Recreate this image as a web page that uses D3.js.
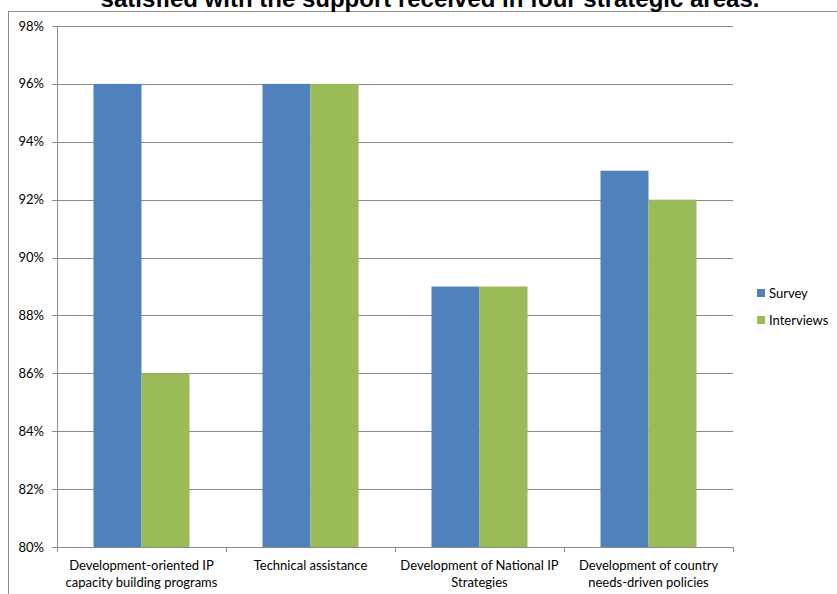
<!DOCTYPE html>
<html><head><meta charset="utf-8">
<script src="https://cdn.jsdelivr.net/npm/d3@7"></script>
<style>body{margin:0;background:#fff}svg{display:block}</style>
</head><body>
<svg id="c" width="837" height="594"></svg>
<script>
const categories = [["Development-oriented IP","capacity building programs"],["Technical assistance"],["Development of National IP","Strategies"],["Development of country","needs-driven policies"]];
const seriesNames = ["Survey","Interviews"];
const survey = [96,96,89,93];
const interviews = [86,96,89,92];
const yTicks = [80,82,84,86,88,90,92,94,96,98];
const colors = ["#4F81BD","#9BBB59"];
const title = "satisfied with the support received in four strategic areas.";

const svg = d3.select("#c");
const m = {l:57,r:733,t:26,b:547};
const font = "Lato, 'Open Sans', sans-serif";

svg.append("rect").attr("x",8.5).attr("y",11.5).attr("width",840).attr("height",600)
  .attr("fill","none").attr("stroke","#8c8c8c").attr("stroke-width",1);

svg.append("text").attr("x",430).attr("y",7).attr("text-anchor","middle")
  .attr("font-family","'Liberation Sans', Arial, sans-serif").attr("font-weight","bold")
  .attr("font-size",24).attr("fill","#000").text(title);

const x0 = d3.scaleBand().domain(d3.range(categories.length)).range([m.l,m.r]).paddingInner(0).paddingOuter(0);
const x1 = d3.scaleBand().domain(seriesNames).range([0,x0.bandwidth()]).paddingInner(0).paddingOuter(0.76);
const y = d3.scaleLinear().domain([80,98]).range([m.b,m.t]);

const g = svg.append("g");
yTicks.forEach(t=>{
  g.append("line").attr("x1",m.l-5).attr("x2",m.r).attr("y1",Math.round(y(t))+0.5).attr("y2",Math.round(y(t))+0.5)
   .attr("stroke", "#8a8a8a").attr("stroke-width",1);
  g.append("text").attr("x",44).attr("y",y(t)+4.5).attr("text-anchor","end")
   .attr("font-family",font).attr("font-size",13).attr("fill","#000").text(t+"%");
});
g.append("line").attr("x1",m.l+0.5).attr("x2",m.l+0.5).attr("y1",m.t).attr("y2",m.b).attr("stroke","#8a8a8a");

const data = [survey, interviews];
categories.forEach((c,i)=>{
  seriesNames.forEach((s,j)=>{
    const v = data[j][i];
    g.append("rect").attr("x",x0(i)+x1(s)).attr("width",x1.bandwidth())
      .attr("y",y(v)).attr("height",y(80)-y(v)).attr("fill",colors[j]);
  });
  c.forEach((line,k)=>{
    g.append("text").attr("x",x0(i)+x0.bandwidth()/2).attr("y",570+k*17).attr("text-anchor","middle")
     .attr("font-family",font).attr("font-size",13).attr("fill","#000").text(line);
  });
});
d3.range(categories.length+1).forEach(i=>{
  const xx = Math.round(m.l + i*x0.bandwidth())+0.5;
  g.append("line").attr("x1",xx).attr("x2",xx).attr("y1",m.b).attr("y2",m.b+5).attr("stroke","#8a8a8a");
});
g.append("line").attr("x1",m.l).attr("x2",m.r).attr("y1",m.b+0.5).attr("y2",m.b+0.5).attr("stroke","#8a8a8a");

seriesNames.forEach((s,j)=>{
  svg.append("rect").attr("x",757).attr("y",289+j*27).attr("width",8).attr("height",8).attr("fill",colors[j]);
  svg.append("text").attr("x",769).attr("y",298+j*27).attr("font-family",font).attr("font-size",13).attr("fill","#000").text(s);
});
</script>
</body></html>
